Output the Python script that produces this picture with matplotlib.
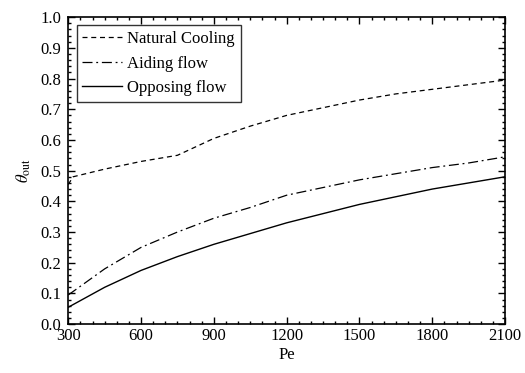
import numpy as np
import matplotlib
matplotlib.use("Agg")
import matplotlib.pyplot as plt
from matplotlib.ticker import MultipleLocator, FormatStrFormatter

pe = [300, 450, 600, 750, 900, 1050, 1200, 1350, 1500, 1650, 1800, 1950, 2100]
pe_natural = [300, 320, 450, 600, 750, 900, 1050, 1200, 1350, 1500, 1650, 1800, 1950, 2100]
natural = [0.455, 0.48, 0.505, 0.53, 0.55, 0.605, 0.645, 0.68, 0.705, 0.73, 0.75, 0.765, 0.78, 0.795]
aiding = [0.095, 0.18, 0.25, 0.30, 0.345, 0.38, 0.42, 0.445, 0.47, 0.49, 0.51, 0.525, 0.545]
opposing = [0.055, 0.12, 0.175, 0.22, 0.26, 0.295, 0.33, 0.36, 0.39, 0.415, 0.44, 0.46, 0.48]

plt.rcParams["font.family"] = ["Liberation Serif", "DejaVu Serif"]
plt.rcParams["mathtext.fontset"] = "stix"

fig = plt.figure(figsize=(5.25, 3.73), dpi=100)
ax = fig.add_axes([0.13, 0.131, 0.832, 0.823])

ax.plot(pe_natural, natural, color="black", lw=0.9, linestyle=(0, (4, 3)), label="Natural Cooling")
ax.plot(pe, aiding, color="black", lw=0.9, linestyle=(0, (8, 3, 1.5, 3)), label="Aiding flow")
ax.plot(pe, opposing, color="black", lw=1.0, linestyle="-", label="Opposing flow")

ax.set_xlim(300, 2100)
ax.set_ylim(0, 1.0)
ax.xaxis.set_major_locator(MultipleLocator(300))
ax.xaxis.set_minor_locator(MultipleLocator(50))
ax.yaxis.set_major_locator(MultipleLocator(0.1))
ax.yaxis.set_minor_locator(MultipleLocator(0.02))
ax.yaxis.set_major_formatter(FormatStrFormatter("%.1f"))
ax.tick_params(which="both", direction="in", top=True, right=True, labelsize=12, width=1.0)
ax.tick_params(which="major", length=5)
ax.tick_params(which="minor", length=2.5)
ax.tick_params(axis="x", pad=3)
ax.tick_params(axis="y", pad=5)
for s in ax.spines.values():
    s.set_linewidth(1.2)

ax.set_xlabel("Pe", fontsize=12, labelpad=2)
ax.set_ylabel(r"$\theta_{\rm out}$", fontsize=12, labelpad=5)

leg = ax.legend(loc="upper left", fontsize=12, frameon=True, fancybox=False,
                edgecolor="black", handlelength=2.4, handletextpad=0.3,
                borderpad=0.35, labelspacing=0.5, borderaxespad=0.5)
leg.get_frame().set_linewidth(1.0)

fig.savefig("out.png", dpi=100)
